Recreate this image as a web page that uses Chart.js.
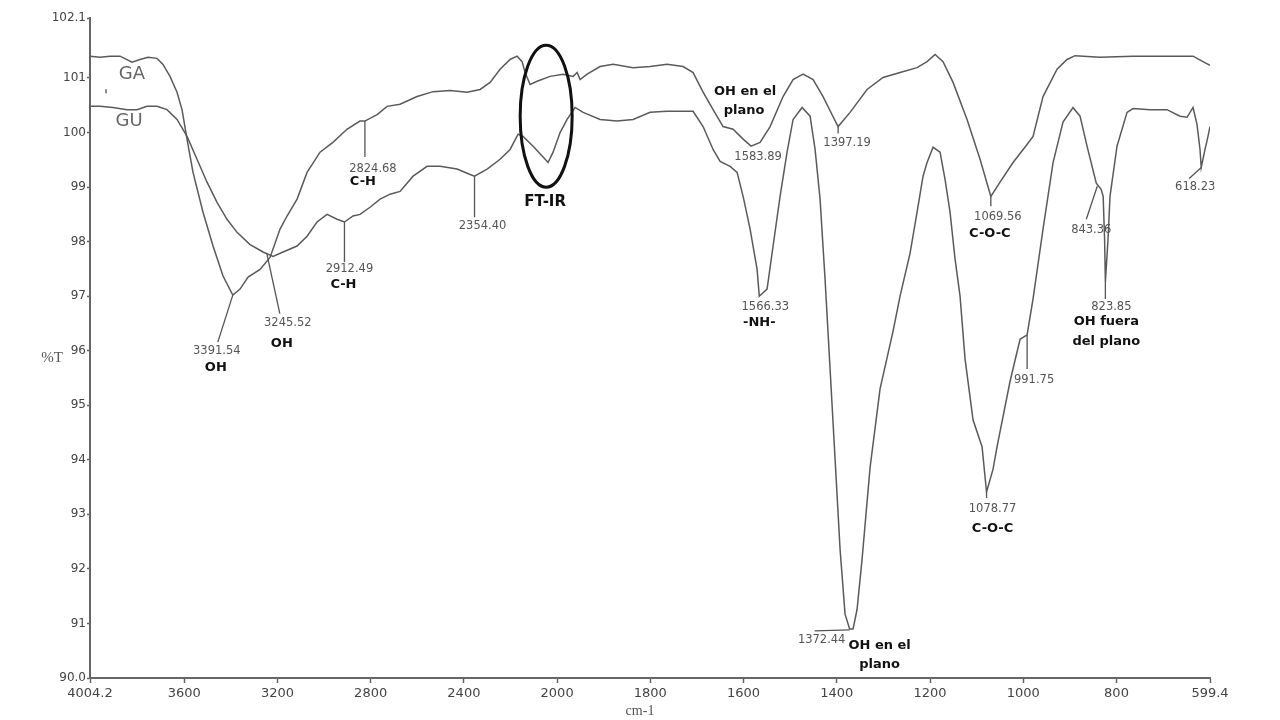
<!DOCTYPE html>
<html>
<head>
<meta charset="utf-8">
<title>FT-IR GA / GU</title>
<script src="https://cdn.jsdelivr.net/npm/chart.js@4.4.1/dist/chart.umd.min.js"></script>
<style>
  html, body { margin: 0; padding: 0; background: #fff; }
  #wrap { width: 1280px; height: 720px; position: relative; }
</style>
</head>
<body>
<div id="wrap"><canvas id="ftir"></canvas></div>
<script>
// wavenumber (cm-1) and transmittance (%T)
var waveGA = [4004.2, 3961.3, 3918.4, 3875.5, 3824.0, 3789.6, 3755.3, 3716.7, 3691.0, 3660.9,
  3630.8, 3609.4, 3587.9, 3562.2, 3519.3, 3476.3, 3433.4, 3391.54, 3360.5, 3326.1,
  3274.6, 3231.7, 3188.8, 3158.8, 3115.8, 3072.9, 3017.1, 2962.0, 2901.9, 2846.0,
  2824.68, 2772.5, 2729.6, 2674.0, 2600.8, 2532.2, 2459.2, 2386.3, 2330.5, 2287.6,
  2244.7, 2201.8, 2171.7, 2150.2, 2137.4, 2115.9, 2085.9, 2030.1, 1987.1, 1965.7,
  1957.1, 1950.7, 1935.7, 1907.8, 1879.9, 1837.0, 1800.5, 1764.1, 1729.7, 1708.3,
  1686.9, 1665.4, 1644.0, 1622.5, 1601.0, 1583.89, 1564.6, 1543.1, 1515.3, 1493.8,
  1472.4, 1450.9, 1429.5, 1408.0, 1397.19, 1371.6, 1335.1, 1300.8, 1264.3, 1227.8,
  1206.4, 1189.2, 1172.1, 1150.6, 1120.6, 1092.7, 1069.56, 1049.8, 1021.9, 991.9,
  979.0, 957.6, 927.5, 906.1, 889.0, 835.3, 764.5, 691.6, 635.8, 614.4, 599.4];
var transGA = [101.40, 101.38, 101.40, 101.40, 101.29, 101.34, 101.38, 101.36, 101.25, 101.03,
  100.74, 100.42, 99.88, 99.27, 98.54, 97.92, 97.37, 97.02, 97.13, 97.35,
  97.49, 97.71, 98.23, 98.47, 98.78, 99.27, 99.64, 99.82, 100.06, 100.21,
  100.21, 100.33, 100.48, 100.52, 100.66, 100.75, 100.77, 100.74, 100.79, 100.92,
  101.16, 101.34, 101.40, 101.30, 101.10, 100.88, 100.94, 101.03, 101.07, 101.03,
  101.10, 100.97, 101.07, 101.21, 101.25, 101.19, 101.21, 101.25, 101.21, 101.10,
  100.74, 100.42, 100.11, 100.06, 99.88, 99.75, 99.82, 100.11, 100.66, 100.97,
  101.07, 100.97, 100.66, 100.29, 100.11, 100.37, 100.79, 101.01, 101.10, 101.19,
  101.30, 101.43, 101.30, 100.92, 100.24, 99.51, 98.83, 99.09, 99.45, 99.78,
  99.93, 100.66, 101.16, 101.34, 101.41, 101.38, 101.40, 101.40, 101.40, 101.30, 101.23];

var waveGU = [4004.2, 3961.3, 3905.5, 3845.4, 3802.5, 3759.6, 3716.7, 3673.7, 3630.8, 3587.9,
  3545.0, 3502.1, 3459.2, 3416.3, 3373.3, 3318.7, 3261.8, 3218.8, 3175.9, 3115.8,
  3072.9, 3030.0, 2987.1, 2944.2, 2912.49, 2875.5, 2845.5, 2802.6, 2759.6, 2716.7,
  2673.8, 2618.0, 2557.9, 2502.1, 2429.2, 2373.4, 2354.40, 2300.4, 2244.7, 2201.8,
  2167.5, 2146.1, 2103.1, 2060.2, 2038.8, 2017.3, 1993.6, 1978.6, 1961.4, 1944.2,
  1907.8, 1871.3, 1837.0, 1800.5, 1764.1, 1729.7, 1708.3, 1686.9, 1665.4, 1650.4,
  1628.9, 1613.9, 1601.0, 1586.0, 1571.0, 1566.33, 1549.6, 1536.7, 1521.7, 1506.7,
  1493.8, 1474.5, 1457.3, 1446.6, 1435.9, 1425.2, 1414.4, 1403.7, 1393.0, 1382.3,
  1372.44, 1365.1, 1356.5, 1345.8, 1328.6, 1307.2, 1279.3, 1264.3, 1242.8, 1227.8,
  1215.0, 1206.4, 1193.5, 1178.5, 1167.8, 1157.1, 1146.3, 1135.6, 1124.9, 1107.7,
  1088.4, 1078.77, 1064.8, 1056.2, 1028.3, 1006.9, 991.75, 979.0, 957.6, 936.1,
  914.7, 893.3, 878.2, 863.2, 843.36, 833.0, 828.6, 825.5, 823.85, 818.2,
  813.9, 798.9, 777.4, 764.5, 728.1, 691.6, 663.7, 648.7, 635.8, 627.3,
  620.8, 618.23, 610.1, 603.7, 599.4];
var transGU = [100.48, 100.48, 100.46, 100.42, 100.42, 100.48, 100.48, 100.42, 100.24, 99.93,
  99.51, 99.09, 98.72, 98.41, 98.17, 97.95, 97.81, 97.73, 97.81, 97.92,
  98.10, 98.36, 98.50, 98.41, 98.36, 98.47, 98.50, 98.63, 98.78, 98.87,
  98.92, 99.20, 99.38, 99.38, 99.33, 99.23, 99.20, 99.33, 99.51, 99.69,
  99.97, 99.93, 99.75, 99.55, 99.45, 99.64, 100.00, 100.24, 100.46, 100.37,
  100.24, 100.21, 100.24, 100.37, 100.39, 100.39, 100.39, 100.11, 99.69, 99.47,
  99.38, 99.27, 98.83, 98.23, 97.49, 97.00, 97.13, 97.92, 98.83, 99.64,
  100.24, 100.46, 100.30, 99.69, 98.78, 97.31, 95.66, 94.01, 92.36, 91.17,
  90.90, 90.90, 91.26, 92.18, 93.86, 95.30, 96.36, 97.00, 97.79, 98.54,
  99.20, 99.45, 99.73, 99.64, 99.14, 98.54, 97.68, 97.00, 95.85, 94.73,
  94.24, 93.41, 93.83, 94.24, 95.44, 96.21, 96.29, 96.95, 98.23, 99.45,
  100.19, 100.46, 100.30, 99.75, 99.07, 98.96, 98.83, 98.04, 97.26, 98.04,
  98.83, 99.75, 100.37, 100.44, 100.42, 100.42, 100.30, 100.28, 100.46, 100.15,
  99.69, 99.36, 99.69, 99.93, 100.11];

var xTickValues = [4004.2, 3600, 3200, 2800, 2400, 2000, 1800, 1600, 1400, 1200, 1000, 800, 599.4];
var xTickLabels = ['4004.2', '3600', '3200', '2800', '2400', '2000', '1800', '1600', '1400', '1200', '1000', '800', '599.4'];
var yTickValues = [90, 91, 92, 93, 94, 95, 96, 97, 98, 99, 100, 101, 102.1];
var yTickLabels = ['90.0', '91', '92', '93', '94', '95', '96', '97', '98', '99', '100', '101', '102.1'];

// the instrument plots everything above 2000 cm-1 at half the scale
var X_BREAK = 2000;

function waveToDecimal(v, lo, hi) {
  var upper = (hi - X_BREAK) / 2;
  var total = upper + (X_BREAK - lo);
  if (v >= X_BREAK) return (hi - v) / 2 / total;
  return (upper + X_BREAK - v) / total;
}
function decimalToWave(d, lo, hi) {
  var upper = (hi - X_BREAK) / 2;
  var total = upper + (X_BREAK - lo);
  var u = d * total;
  if (u <= upper) return hi - u * 2;
  return X_BREAK - (u - upper);
}

class FtirScale extends Chart.LinearScale {
  buildTicks() {
    this.start = this.min;
    this.end = this.max;
    return xTickValues.map(function (v) { return { value: v }; });
  }
  getPixelForValue(value) {
    return this.getPixelForDecimal(waveToDecimal(value, this.min, this.max));
  }
  getValueForPixel(pixel) {
    return decimalToWave(this.getDecimalForPixel(pixel), this.min, this.max);
  }
}
FtirScale.id = 'ftir';
FtirScale.defaults = Chart.LinearScale.defaults;
Chart.register(FtirScale);

var series = { GA: [waveGA, transGA], GU: [waveGU, transGU] };

function transAt(name, w) {
  var ws = series[name][0], ts = series[name][1];
  for (var i = 0; i < ws.length - 1; i++) {
    if (w <= ws[i] && w >= ws[i + 1]) {
      var f = (ws[i] - w) / (ws[i] - ws[i + 1]);
      return ts[i] + f * (ts[i + 1] - ts[i]);
    }
  }
  return ts[ts.length - 1];
}

// peak labels: anchored on a curve, then pixel offsets for the leader line and texts
var peakNotes = [
  { s: 'GA', w: 3391.54, line: [0, 0, -15, 47], texts: [['3391.54', -16, 56], ['OH', -17, 73, 1]] },
  { s: 'GU', w: 3245.52, line: [0, 0, 13, 60], texts: [['3245.52', 21, 69], ['OH', 15, 90, 1]] },
  { s: 'GA', w: 2824.68, line: [0, 0, 0, 36], texts: [['2824.68', 8, 48], ['C-H', -2, 61, 1]] },
  { s: 'GU', w: 2912.49, line: [0, 0, 0, 40], texts: [['2912.49', 5, 47], ['C-H', -1, 63, 1]] },
  { s: 'GU', w: 2354.40, line: [0, 0, 0, 41], texts: [['2354.40', 8, 50]] },
  { s: 'GA', w: 1583.89, line: null, texts: [['1583.89', 7, 11], ['OH en el', -6, -55, 1], ['plano', -7, -36, 1]] },
  { s: 'GA', w: 1397.19, line: [0, 0, 0, 7], texts: [['1397.19', 9, 16]] },
  { s: 'GU', w: 1566.33, line: null, texts: [['1566.33', 6, 11], ['-NH-', 0, 26, 1]] },
  { s: 'GU', w: 1372.44, line: [0, 1, -35, 2], texts: [['1372.44', -28, 11], ['OH en el', 30, 17, 1], ['plano', 30, 36, 1]] },
  { s: 'GA', w: 1069.56, line: [0, 0, 0, 10], texts: [['1069.56', 7, 21], ['C-O-C', -1, 37, 1]] },
  { s: 'GU', w: 1078.77, line: [0, 0, 0, 6], texts: [['1078.77', 6, 17], ['C-O-C', 6, 37, 1]] },
  { s: 'GU', w: 991.75, line: [0, 0, 0, 34], texts: [['991.75', 7, 45]] },
  { s: 'GU', w: 843.36, line: [1, 3, -10, 36], texts: [['843.36', -5, 47]] },
  { s: 'GU', w: 823.85, line: [0, 0, 0, 17], texts: [['823.85', 6, 25], ['OH fuera', 1, 40, 1], ['del plano', 1, 60, 1]] },
  { s: 'GU', w: 618.23, line: [0, 0, -12, 11], texts: [['618.23', -6, 20]] }
];

var notesPlugin = {
  id: 'notes',
  afterDatasetsDraw: function (chart) {
    var ctx = chart.ctx, xs = chart.scales.x, ys = chart.scales.y, area = chart.chartArea;
    ctx.save();
    ctx.textAlign = 'center';
    ctx.textBaseline = 'middle';

    peakNotes.forEach(function (n) {
      var px = xs.getPixelForValue(n.w);
      var py = ys.getPixelForValue(transAt(n.s, n.w));
      if (n.line) {
        ctx.strokeStyle = '#555';
        ctx.lineWidth = 1.3;
        ctx.beginPath();
        ctx.moveTo(px + n.line[0], py + n.line[1]);
        ctx.lineTo(px + n.line[2], py + n.line[3]);
        ctx.stroke();
      }
      n.texts.forEach(function (t) {
        if (t[3]) {
          ctx.font = 'bold 13px "DejaVu Sans"';
          ctx.fillStyle = '#111';
        } else {
          ctx.font = '11.5px "DejaVu Sans"';
          ctx.fillStyle = '#555';
        }
        ctx.fillText(t[0], px + t[1], py + t[2]);
      });
    });

    // series names next to the start of each trace
    var gx = xs.getPixelForValue(waveGA[0]);
    ctx.font = '18px "DejaVu Sans"';
    ctx.fillStyle = '#666';
    ctx.fillText('GA', gx + 42, ys.getPixelForValue(transGA[0]) + 18);
    ctx.fillText('GU', gx + 39, ys.getPixelForValue(transGU[0]) + 15);
    // stray tick between the two names
    ctx.strokeStyle = '#666';
    ctx.lineWidth = 1.5;
    ctx.beginPath();
    ctx.moveTo(gx + 16, ys.getPixelForValue(transGA[0]) + 33);
    ctx.lineTo(gx + 16, ys.getPixelForValue(transGA[0]) + 37);
    ctx.stroke();

    // the circled FT-IR region
    var cx = xs.getPixelForValue(2047), cy = ys.getPixelForValue(100.3);
    ctx.strokeStyle = '#111';
    ctx.lineWidth = 3;
    ctx.beginPath();
    ctx.ellipse(cx, cy, 26, 71, 0, 0, Math.PI * 2);
    ctx.stroke();
    ctx.font = 'bold 15px "DejaVu Sans"';
    ctx.fillStyle = '#111';
    ctx.fillText('FT-IR', cx - 1, cy + 86);

    // axis names
    ctx.font = '15px "Liberation Serif"';
    ctx.fillStyle = '#555';
    ctx.fillText('%T', area.left - 38, ys.getPixelForValue(96) + 7);
    ctx.font = '14px "Liberation Serif"';
    ctx.fillText('cm-1', 640, 711);
    ctx.restore();
  }
};

function toPoints(ws, ts) {
  return ws.map(function (w, i) { return { x: w, y: ts[i] }; });
}

var ctx = document.getElementById('ftir').getContext('2d');
var chart = new Chart(ctx, {
  type: 'line',
  data: {
    datasets: [
      { label: 'GA', data: toPoints(waveGA, transGA) },
      { label: 'GU', data: toPoints(waveGU, transGU) }
    ]
  },
  options: {
    responsive: true,
    maintainAspectRatio: false,
    animation: false,
    layout: { padding: { top: 18, right: 70, left: 0, bottom: 0 } },
    elements: {
      line: { borderColor: '#5a5a5a', borderWidth: 1.5, tension: 0, fill: false },
      point: { radius: 0 }
    },
    plugins: {
      legend: { display: false },
      tooltip: { enabled: false }
    },
    scales: {
      x: {
        type: 'ftir',
        min: 599.4,
        max: 4004.2,
        afterFit: function (scale) { scale.height = 42; },
        border: { display: true, color: '#666', width: 2 },
        grid: { drawOnChartArea: false, drawTicks: true, tickLength: 5, color: '#666', tickWidth: 1.5 },
        ticks: {
          autoSkip: false,
          maxRotation: 0,
          padding: 3,
          color: '#444',
          font: { family: 'DejaVu Sans', size: 13 },
          callback: function (v, i) { return xTickLabels[i]; }
        }
      },
      y: {
        min: 90,
        max: 102.1,
        afterFit: function (scale) { scale.width = 90; },
        afterBuildTicks: function (scale) {
          scale.ticks = yTickValues.map(function (v) { return { value: v }; });
        },
        border: { display: true, color: '#666', width: 2 },
        grid: { drawOnChartArea: false, drawTicks: true, tickLength: 3, color: '#666', tickWidth: 1.5 },
        ticks: {
          padding: 1,
          color: '#444',
          font: { family: 'DejaVu Sans', size: 12 },
          callback: function (v, i) { return yTickLabels[i]; }
        }
      }
    }
  },
  plugins: [notesPlugin]
});
</script>
</body>
</html>
